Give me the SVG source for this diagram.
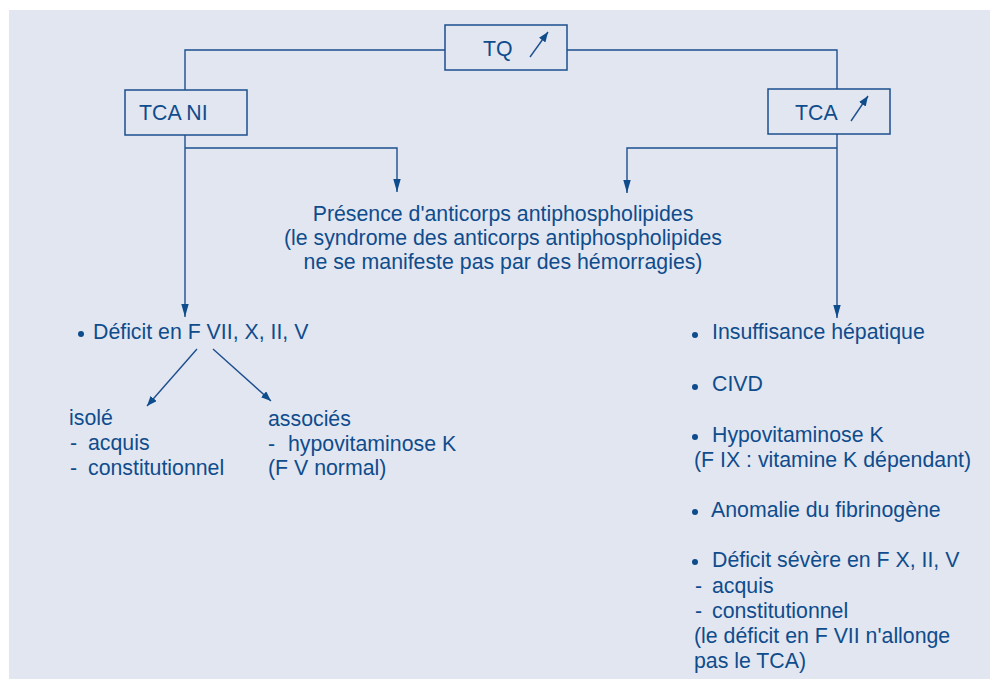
<svg xmlns="http://www.w3.org/2000/svg" width="990" height="679" viewBox="0 0 990 679">
<defs>
<style>
.bg{fill:#e2e6f1}
.box{fill:none;stroke:#1d4f8e;stroke-width:1.5}
.ln{fill:none;stroke:#1d4f8e;stroke-width:1.4}
.t{font-family:"Liberation Sans",Arial,sans-serif;font-size:21.3px;fill:#0f4c8c}
.m{text-anchor:middle}
.dot{fill:#0f4c8c}
</style>
<marker id="ahv" viewBox="0 0 14 8" refX="14" refY="4" markerWidth="13" markerHeight="8" markerUnits="userSpaceOnUse" orient="auto">
<path d="M0,0 L14,4 L0,8 Z" fill="#0f4c8c"/>
</marker>
<marker id="ahs" viewBox="0 0 10 8" refX="10" refY="4" markerWidth="10" markerHeight="8" markerUnits="userSpaceOnUse" orient="auto">
<path d="M0,0 L10,4 L0,8 Z" fill="#0f4c8c"/>
</marker>
</defs>
<rect class="bg" x="9" y="10" width="981" height="669"/>

<g id="connectors">
<path class="ln" d="M185,90 V50 H445"/>
<path class="ln" d="M567,50 H837 V89"/>
<path class="ln" d="M185,135 V317" marker-end="url(#ahv)"/>
<path class="ln" d="M185,148 H397 V192" marker-end="url(#ahv)"/>
<path class="ln" d="M837,134 V318" marker-end="url(#ahv)"/>
<path class="ln" d="M837,148 H627 V193" marker-end="url(#ahv)"/>
<path class="ln" d="M197,349 L147,406" marker-end="url(#ahs)"/>
<path class="ln" d="M213,349 L271,401" marker-end="url(#ahs)"/>
</g>

<g id="tq">
<rect class="box" x="445" y="25" width="122" height="45"/>
<text class="t" x="483" y="56">TQ</text>
<path class="ln" d="M530,57 L548,32" marker-end="url(#ahs)"/>
</g>

<g id="tcani">
<rect class="box" x="125" y="90" width="122" height="45"/>
<text class="t" x="139" y="120">TCA NI</text>
</g>

<g id="tca">
<rect class="box" x="768" y="89" width="122" height="45"/>
<text class="t" x="795" y="120">TCA</text>
<path class="ln" d="M851,121 L868,96" marker-end="url(#ahs)"/>
</g>

<g id="apl">
<text class="t m" x="503" y="221">Présence d'anticorps antiphospholipides</text>
<text class="t m" x="503" y="245">(le syndrome des anticorps antiphospholipides</text>
<text class="t m" x="503" y="269">ne se manifeste pas par des hémorragies)</text>
</g>

<g id="deficit">
<circle class="dot" cx="81" cy="334" r="3"/>
<text class="t" x="93" y="339">Déficit en F VII, X, II, V</text>
</g>

<g id="isole">
<text class="t" x="69" y="425">isolé</text>
<text class="t" x="70" y="450">-</text>
<text class="t" x="88" y="450">acquis</text>
<text class="t" x="70" y="475">-</text>
<text class="t" x="88" y="475">constitutionnel</text>
</g>

<g id="associes">
<text class="t" x="268" y="426">associés</text>
<text class="t" x="268" y="451">-</text>
<text class="t" x="288" y="451">hypovitaminose K</text>
<text class="t" x="268" y="475">(F V normal)</text>
</g>

<g id="tca-causes">
<circle class="dot" cx="695" cy="335" r="3"/>
<text class="t" x="712" y="339">Insuffisance hépatique</text>
<circle class="dot" cx="695" cy="387" r="3"/>
<text class="t" x="712" y="391">CIVD</text>
<circle class="dot" cx="695" cy="437" r="3"/>
<text class="t" x="712" y="442">Hypovitaminose K</text>
<text class="t" x="694" y="467">(F IX : vitamine K dépendant)</text>
<circle class="dot" cx="695" cy="512" r="3"/>
<text class="t" x="711" y="517">Anomalie du fibrinogène</text>
<circle class="dot" cx="695" cy="562" r="3"/>
<text class="t" x="712" y="567">Déficit sévère en F X, II, V</text>
<text class="t" x="695" y="593">-</text>
<text class="t" x="712" y="593">acquis</text>
<text class="t" x="695" y="618">-</text>
<text class="t" x="712" y="618">constitutionnel</text>
<text class="t" x="694" y="643">(le déficit en F VII n'allonge</text>
<text class="t" x="694" y="668">pas le TCA)</text>
</g>
</svg>
